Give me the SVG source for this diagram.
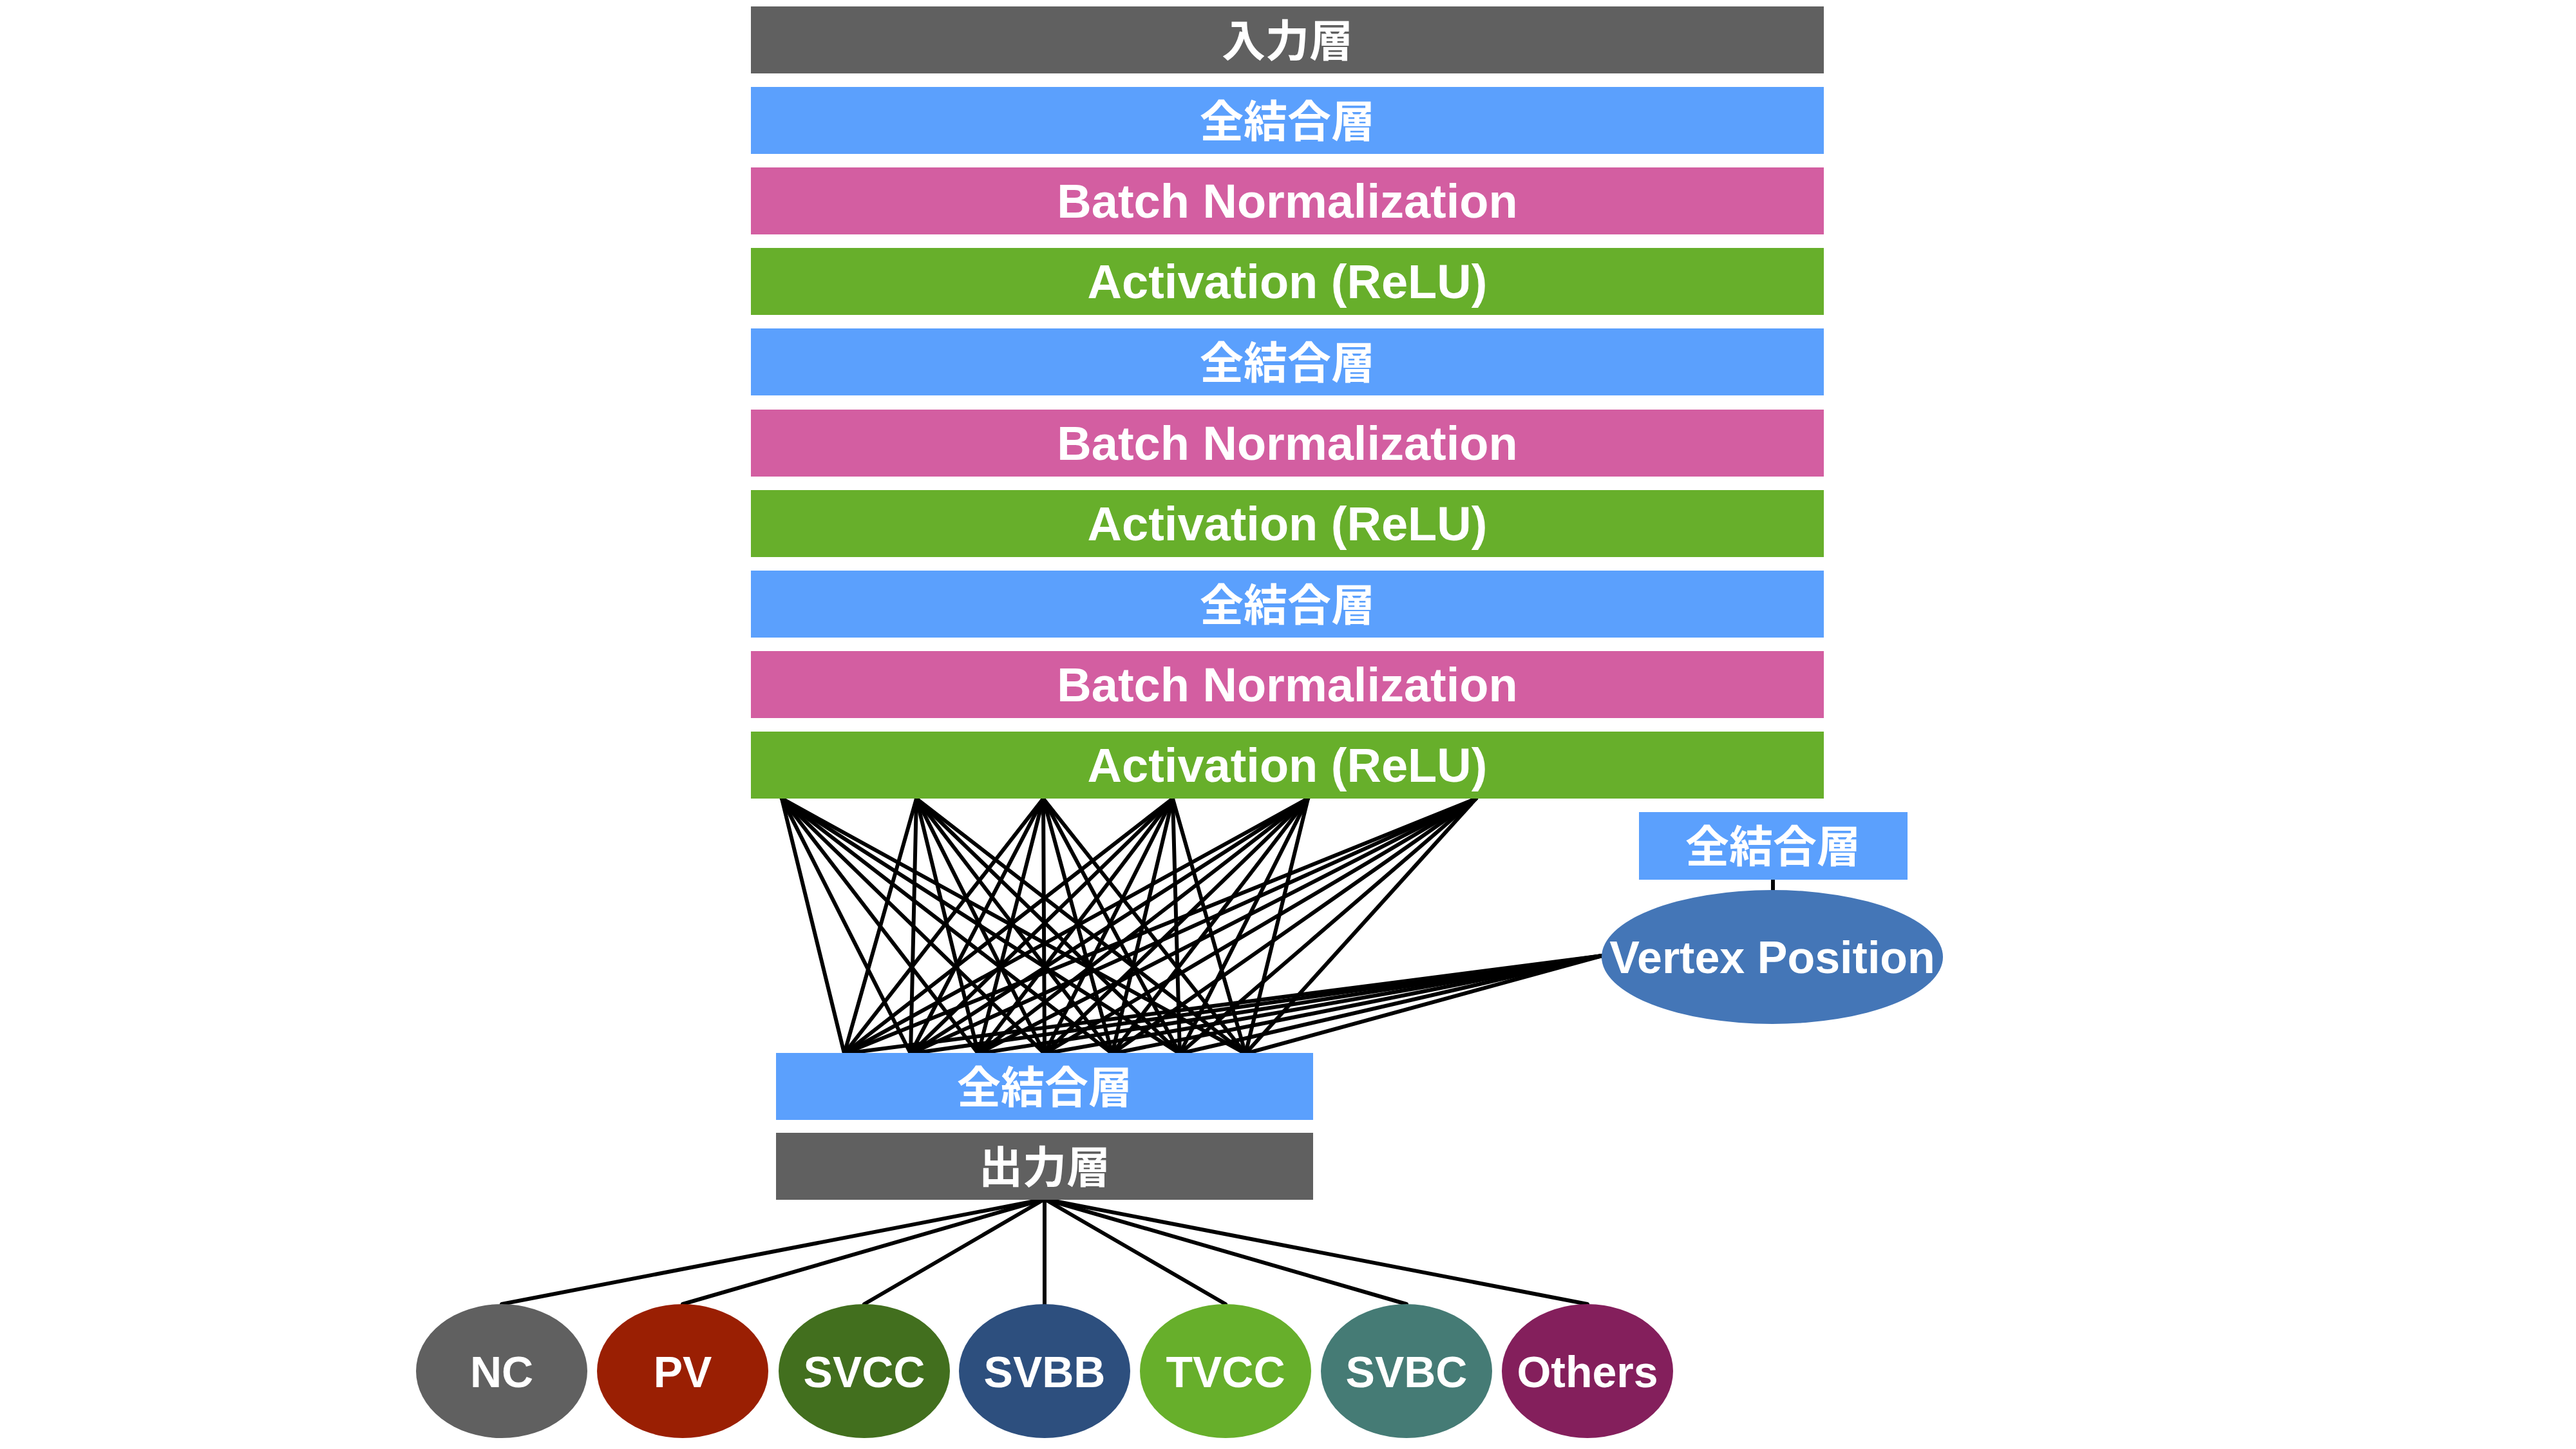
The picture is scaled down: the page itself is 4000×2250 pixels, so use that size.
<svg xmlns="http://www.w3.org/2000/svg" width="4000" height="2250" viewBox="0 0 4000 2250">
<style>
.gray{fill:#606060}
.blue{fill:#5BA0FD}
.pink{fill:#D35EA1}
.green{fill:#67AF2B}
.jp{font-family:"Noto Sans CJK JP","Noto Sans",sans-serif;font-weight:bold;font-size:68px;fill:#fff;text-anchor:middle}
.en{font-family:"Liberation Sans",Arial,sans-serif;font-weight:bold;font-size:74px;fill:#fff;text-anchor:middle}
.el{font-family:"Liberation Sans",Arial,sans-serif;font-weight:bold;font-size:68px;fill:#fff;text-anchor:middle}
.conn line{stroke:#000;stroke-width:6;stroke-linecap:round}
</style>
<rect width="4000" height="2250" fill="#fff"/>
<g id="connectors" class="conn">
<!-- activation to FC: 6 x 7 -->
<g id="fc-links">
<line x1="1214" y1="1240" x2="1311" y2="1636"/><line x1="1214" y1="1240" x2="1414" y2="1636"/><line x1="1214" y1="1240" x2="1519" y2="1636"/><line x1="1214" y1="1240" x2="1622" y2="1636"/><line x1="1214" y1="1240" x2="1727" y2="1636"/><line x1="1214" y1="1240" x2="1832" y2="1636"/><line x1="1214" y1="1240" x2="1934" y2="1636"/>
<line x1="1423" y1="1240" x2="1311" y2="1636"/><line x1="1423" y1="1240" x2="1414" y2="1636"/><line x1="1423" y1="1240" x2="1519" y2="1636"/><line x1="1423" y1="1240" x2="1622" y2="1636"/><line x1="1423" y1="1240" x2="1727" y2="1636"/><line x1="1423" y1="1240" x2="1832" y2="1636"/><line x1="1423" y1="1240" x2="1934" y2="1636"/>
<line x1="1620" y1="1240" x2="1311" y2="1636"/><line x1="1620" y1="1240" x2="1414" y2="1636"/><line x1="1620" y1="1240" x2="1519" y2="1636"/><line x1="1620" y1="1240" x2="1622" y2="1636"/><line x1="1620" y1="1240" x2="1727" y2="1636"/><line x1="1620" y1="1240" x2="1832" y2="1636"/><line x1="1620" y1="1240" x2="1934" y2="1636"/>
<line x1="1821" y1="1240" x2="1311" y2="1636"/><line x1="1821" y1="1240" x2="1414" y2="1636"/><line x1="1821" y1="1240" x2="1519" y2="1636"/><line x1="1821" y1="1240" x2="1622" y2="1636"/><line x1="1821" y1="1240" x2="1727" y2="1636"/><line x1="1821" y1="1240" x2="1832" y2="1636"/><line x1="1821" y1="1240" x2="1934" y2="1636"/>
<line x1="2031" y1="1240" x2="1311" y2="1636"/><line x1="2031" y1="1240" x2="1414" y2="1636"/><line x1="2031" y1="1240" x2="1519" y2="1636"/><line x1="2031" y1="1240" x2="1622" y2="1636"/><line x1="2031" y1="1240" x2="1727" y2="1636"/><line x1="2031" y1="1240" x2="1832" y2="1636"/><line x1="2031" y1="1240" x2="1934" y2="1636"/>
<line x1="2292" y1="1240" x2="1311" y2="1636"/><line x1="2292" y1="1240" x2="1414" y2="1636"/><line x1="2292" y1="1240" x2="1519" y2="1636"/><line x1="2292" y1="1240" x2="1622" y2="1636"/><line x1="2292" y1="1240" x2="1727" y2="1636"/><line x1="2292" y1="1240" x2="1832" y2="1636"/><line x1="2292" y1="1240" x2="1934" y2="1636"/>
</g>
<g id="vertex-links">
<line x1="2488" y1="1484" x2="1311" y2="1636"/><line x1="2488" y1="1484" x2="1414" y2="1636"/><line x1="2488" y1="1484" x2="1519" y2="1636"/><line x1="2488" y1="1484" x2="1622" y2="1636"/><line x1="2488" y1="1484" x2="1727" y2="1636"/><line x1="2488" y1="1484" x2="1832" y2="1636"/><line x1="2488" y1="1484" x2="1934" y2="1636"/>
<line x1="2753" y1="1366" x2="2753" y2="1382"/>
</g>
<g id="output-links">
<line x1="1622" y1="1862" x2="779" y2="2025"/><line x1="1622" y1="1862" x2="1060" y2="2025"/><line x1="1622" y1="1862" x2="1342" y2="2025"/><line x1="1622" y1="1862" x2="1622" y2="2025"/><line x1="1622" y1="1862" x2="1903" y2="2025"/><line x1="1622" y1="1862" x2="2184" y2="2025"/><line x1="1622" y1="1862" x2="2465" y2="2025"/>
</g>
</g>
<g id="input"><rect class="gray" x="1166" y="10" width="1666" height="104"/><text class="jp" x="1999" y="88">入力層</text></g>
<g id="fc1"><rect class="blue" x="1166" y="135" width="1666" height="104"/><text class="jp" x="1999" y="213">全結合層</text></g>
<g id="bn1"><rect class="pink" x="1166" y="260" width="1666" height="104"/><text class="en" x="1999" y="338">Batch Normalization</text></g>
<g id="act1"><rect class="green" x="1166" y="385" width="1666" height="104"/><text class="en" x="1999" y="463">Activation (ReLU)</text></g>
<g id="fc2"><rect class="blue" x="1166" y="510" width="1666" height="104"/><text class="jp" x="1999" y="588">全結合層</text></g>
<g id="bn2"><rect class="pink" x="1166" y="636" width="1666" height="104"/><text class="en" x="1999" y="714">Batch Normalization</text></g>
<g id="act2"><rect class="green" x="1166" y="761" width="1666" height="104"/><text class="en" x="1999" y="839">Activation (ReLU)</text></g>
<g id="fc3"><rect class="blue" x="1166" y="886" width="1666" height="104"/><text class="jp" x="1999" y="964">全結合層</text></g>
<g id="bn3"><rect class="pink" x="1166" y="1011" width="1666" height="104"/><text class="en" x="1999" y="1089">Batch Normalization</text></g>
<g id="act3"><rect class="green" x="1166" y="1136" width="1666" height="104"/><text class="en" x="1999" y="1214">Activation (ReLU)</text></g>
<g id="fc-vertex"><rect class="blue" x="2545" y="1261" width="417" height="105"/><text class="jp" x="2753" y="1339">全結合層</text></g>
<g id="vertex"><ellipse cx="2752" cy="1486" rx="265" ry="104" fill="#4476B7"/><text class="el" x="2752" y="1511" style="font-size:70px">Vertex Position</text></g>
<g id="fc4"><rect class="blue" x="1205" y="1635" width="834" height="104"/><text class="jp" x="1622" y="1713">全結合層</text></g>
<g id="output"><rect class="gray" x="1205" y="1759" width="834" height="104"/><text class="jp" x="1622" y="1837">出力層</text></g>
<g id="nc"><ellipse cx="779" cy="2129" rx="133" ry="104" fill="#606060"/><text class="el" x="779" y="2154">NC</text></g>
<g id="pv"><ellipse cx="1060" cy="2129" rx="133" ry="104" fill="#9A1F03"/><text class="el" x="1060" y="2154">PV</text></g>
<g id="svcc"><ellipse cx="1342" cy="2129" rx="133" ry="104" fill="#426F1E"/><text class="el" x="1342" y="2154">SVCC</text></g>
<g id="svbb"><ellipse cx="1622" cy="2129" rx="133" ry="104" fill="#2D4F7E"/><text class="el" x="1622" y="2154">SVBB</text></g>
<g id="tvcc"><ellipse cx="1903" cy="2129" rx="133" ry="104" fill="#67AF2B"/><text class="el" x="1903" y="2154">TVCC</text></g>
<g id="svbc"><ellipse cx="2184" cy="2129" rx="133" ry="104" fill="#457B75"/><text class="el" x="2184" y="2154">SVBC</text></g>
<g id="others"><ellipse cx="2465" cy="2129" rx="133" ry="104" fill="#841F5C"/><text class="el" x="2465" y="2154">Others</text></g>
</svg>
